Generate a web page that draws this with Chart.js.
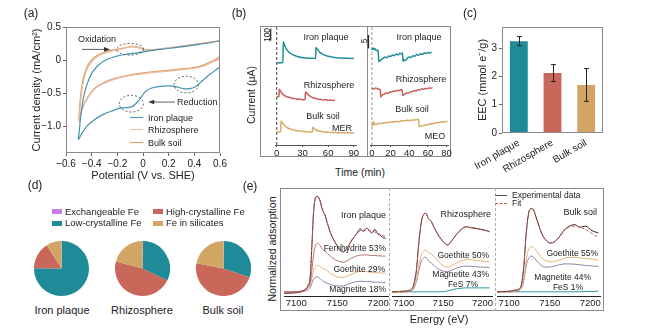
<!DOCTYPE html>
<html>
<head>
<meta charset="utf-8">
<script src="https://cdn.jsdelivr.net/npm/chart.js@4.4.1/dist/chart.umd.min.js"></script>
<style>
body { margin: 0; background: #fff; }
#fig { position: relative; width: 648px; height: 329px; overflow: hidden; font-family: Arial, "Liberation Sans", sans-serif; color: #222; }
#fig canvas { position: absolute; }
.t { position: absolute; white-space: nowrap; line-height: 1; }
.box { position: absolute; box-sizing: border-box; }
</style>
</head>
<body>
<div id="fig"></div>
<script>
// ---- (a) cyclic voltammetry: forward scan (up) and reverse scan (down)
const cvIronUpV = [-0.504, -0.496, -0.486, -0.465, -0.439, -0.400, -0.348, -0.283, -0.205, -0.127, -0.049, 0.029, 0.133, 0.263, 0.393, 0.523, 0.600];
const cvIronUpJ = [-1.20, -1.06, -0.86, -0.58, -0.38, -0.20, -0.076, 0.01, 0.061, 0.091, 0.111, 0.133, 0.162, 0.193, 0.226, 0.262, 0.293];
const cvIronDnV = [0.600, 0.548, 0.496, 0.444, 0.405, 0.366, 0.314, 0.263, 0.211, 0.133, 0.068, 0.023, -0.010, -0.044, -0.081, -0.127, -0.179, -0.231, -0.309, -0.387, -0.439, -0.478, -0.504];
const cvIronDnJ = [-0.10, -0.177, -0.253, -0.343, -0.404, -0.429, -0.429, -0.404, -0.389, -0.394, -0.419, -0.465, -0.545, -0.631, -0.697, -0.717, -0.722, -0.758, -0.818, -0.909, -1.0, -1.111, -1.20];
const cvRhizoUpV = [-0.499, -0.491, -0.481, -0.465, -0.439, -0.400, -0.348, -0.283, -0.205, -0.140, -0.088, -0.036, 0.016, 0.081, 0.185, 0.315, 0.445, 0.600];
const cvRhizoUpJ = [-0.93, -0.73, -0.53, -0.33, -0.15, -0.025, 0.061, 0.116, 0.152, 0.18, 0.20, 0.19, 0.155, 0.158, 0.182, 0.214, 0.248, 0.293];
const cvRhizoDnV = [0.600, 0.548, 0.470, 0.393, 0.263, 0.133, 0.003, -0.127, -0.231, -0.309, -0.374, -0.426, -0.465, -0.491, -0.499];
const cvRhizoDnJ = [0.025, -0.025, -0.091, -0.126, -0.152, -0.177, -0.202, -0.242, -0.293, -0.354, -0.429, -0.556, -0.697, -0.859, -0.93];
const cvBulkUpV = [-0.500, -0.493, -0.483, -0.467, -0.441, -0.402, -0.350, -0.285, -0.207, -0.140, -0.088, -0.036, 0.016, 0.081, 0.185, 0.315, 0.445, 0.600];
const cvBulkUpJ = [-0.90, -0.68, -0.48, -0.29, -0.12, 0.0, 0.08, 0.13, 0.162, 0.186, 0.207, 0.197, 0.158, 0.16, 0.183, 0.215, 0.249, 0.293];
const cvBulkDnV = [0.600, 0.548, 0.470, 0.393, 0.263, 0.133, 0.003, -0.127, -0.231, -0.309, -0.374, -0.426, -0.465, -0.490, -0.500];
const cvBulkDnJ = [0.05, -0.005, -0.075, -0.112, -0.14, -0.166, -0.192, -0.232, -0.283, -0.343, -0.418, -0.545, -0.69, -0.84, -0.90];
const cvXTicks = [-0.6, -0.4, -0.2, 0, 0.2, 0.4, 0.6];
const cvYTicks = [0.5, 0, -0.5, -1.0];
// dashed ellipses [V, mA, half width V, half height mA]
const cvPeaks = [[-0.10, 0.164, 0.104, 0.088], [-0.091, -0.656, 0.094, 0.126], [0.337, -0.368, 0.095, 0.126]];
// arrows [V0, J0, V1, J1]
const cvArrows = [[-0.475, 0.162, -0.257, 0.162], [0.249, -0.632, 0.041, -0.632]];

// ---- (b) chronoamperometry (offset traces)
const merIronT = [0, 3, 6, 7.2, 7.6, 9, 11, 13, 15, 18, 21, 25, 29, 34, 40, 45.3, 45.8, 47, 48.5, 50, 53, 56, 60, 64, 70, 76, 83, 90];
const merIronI = [697, 695, 699, 697, 875, 848, 818, 797, 782, 768, 758, 748, 742, 738, 735, 733, 826, 815, 800, 787, 773, 762, 752, 746, 740, 737, 735, 733];
const merRhizoT = [0, 1.5, 2.6, 3, 4, 5, 6, 8, 10, 12, 15, 18, 21, 24, 27, 30, 33, 33.6, 34.2, 35.5, 37, 39, 42, 45, 48, 51, 54, 57, 60, 63, 66, 68];
const merRhizoI = [405, 410, 408, 472, 462, 450, 438, 425, 416, 406, 404, 394, 395, 387, 390, 384, 386, 450, 447, 436, 424, 414, 400, 397, 388, 388, 382, 384, 379, 381, 377, 379];
const merBulkT = [0, 3, 4.6, 5, 6, 7.5, 9, 11, 13, 16, 19, 23, 28, 33, 38, 41.5, 42, 43, 44.5, 46, 48, 51, 55, 60, 66, 72, 78, 84, 90];
const merBulkI = [113, 112, 113, 203, 194, 180, 168, 155, 144, 135, 128, 122, 118, 114, 111, 110, 150, 143, 134, 127, 121, 116, 111, 108, 106, 104, 103, 103, 102];
const meoIronT = [0, 1, 2, 3, 4, 5, 6, 6.8, 7.3, 8, 9, 10, 12, 14, 16, 18, 20, 22, 24, 26, 28, 30, 32, 32.8, 33.4, 34, 36, 38, 40, 42, 44, 46, 48, 50, 52, 54, 56, 58, 60, 62, 64];
const meoIronI = [35.4, 36.2, 35.6, 36.0, 35.5, 35.2, 35.3, 35.0, 31.0, 31.6, 31.3, 31.9, 32.3, 32.8, 32.5, 33.2, 33.0, 33.6, 33.3, 33.9, 33.6, 34.2, 34.0, 34.3, 31.2, 31.8, 31.6, 32.4, 32.8, 32.6, 33.3, 33.1, 33.7, 33.5, 34.0, 33.8, 34.3, 34.1, 34.5, 34.3, 34.6];
const meoRhizoT = [0, 2, 4, 6, 8, 9, 9.5, 11, 13, 15, 17, 19, 21, 23, 25, 27, 29, 31.5, 32.3, 33, 35, 37, 39, 41, 43, 45, 47, 49, 51, 53, 55, 57, 59, 61, 63, 65];
const meoRhizoI = [21.2, 20.9, 21.3, 21.0, 20.8, 20.5, 17.9, 18.6, 18.9, 19.4, 19.2, 19.8, 19.7, 20.1, 20.0, 20.4, 20.3, 20.7, 20.4, 18.5, 18.9, 19.4, 19.3, 19.8, 19.9, 20.2, 20.1, 20.6, 20.5, 20.9, 20.8, 21.1, 21.0, 21.3, 21.2, 21.4];
const meoBulkT = [0, 1, 1.8, 3, 5, 8, 11, 14, 17, 20, 23, 26, 29, 32, 35, 38, 41, 44, 47, 50, 50.8, 52, 54, 57, 60, 63, 66, 69, 72, 75, 78, 81];
const meoBulkI = [6.9, 7.4, 8.8, 7.6, 7.8, 8.1, 8.0, 8.4, 8.3, 8.6, 8.5, 8.8, 8.7, 9.0, 9.0, 9.2, 9.1, 9.4, 9.3, 9.6, 6.8, 7.0, 7.2, 7.5, 7.6, 7.9, 8.0, 8.3, 8.4, 8.6, 8.7, 8.8];
const merTicks = [0, 30, 60, 90];
const meoTicks = [0, 20, 40, 60, 80];

// ---- (c) electron exchange capacity
const sites = ['Iron plaque', 'Rhizosphere', 'Bulk soil'];
const eecMean = [3.25, 2.12, 1.70];
const eecErr = [0.16, 0.30, 0.58];
const eecTicks = [0, 1, 2, 3];

// ---- (d) Fe fractions (%)
const feFractions = ['Exchangeable Fe', 'Low-crystalline Fe', 'High-crystalline Fe', 'Fe in silicates'];
const feIron = [0.3, 75, 16, 9];
const feRhizo = [0.3, 32, 47, 21];
const feBulk = [0.3, 30, 48, 22];

// ---- (e) Fe K-edge XANES (offset, normalized)
const eTicks = [7100, 7150, 7200];
const xIronE = [7085, 7100, 7110, 7114, 7117, 7119, 7121, 7124, 7126, 7129, 7132, 7135, 7138, 7142, 7148, 7154, 7158, 7162, 7168, 7174, 7178, 7182, 7186, 7189, 7192, 7196, 7199, 7202, 7205, 7209];
const xIronExp = [0.09, 0.11, 0.2, 0.33, 0.64, 1.64, 2.76, 3.31, 3.32, 3.18, 2.87, 2.7, 2.42, 2.09, 1.76, 1.51, 1.47, 1.59, 1.87, 2.09, 2.24, 2.15, 2.26, 2.2, 2.1, 2.22, 2.08, 2.04, 1.96, 1.92];
const xIronFit = [0.09, 0.11, 0.2, 0.33, 0.64, 1.64, 2.76, 3.3, 3.31, 3.17, 2.88, 2.7, 2.43, 2.1, 1.76, 1.52, 1.48, 1.6, 1.88, 2.08, 2.17, 2.2, 2.2, 2.18, 2.16, 2.13, 2.1, 2.06, 2.02, 1.98];
const xIronFerri = [0.14, 0.15, 0.2, 0.28, 0.45, 0.85, 1.35, 1.72, 1.76, 1.68, 1.55, 1.5, 1.42, 1.32, 1.2, 1.14, 1.13, 1.17, 1.27, 1.34, 1.36, 1.37, 1.37, 1.36, 1.35, 1.35, 1.34, 1.34, 1.33, 1.33];
const xIronGoeth = [0.13, 0.14, 0.18, 0.24, 0.38, 0.6, 0.85, 1.0, 1.03, 0.98, 0.92, 0.9, 0.84, 0.75, 0.66, 0.62, 0.62, 0.66, 0.74, 0.8, 0.82, 0.82, 0.81, 0.8, 0.79, 0.78, 0.78, 0.77, 0.77, 0.76];
const xIronMagn = [0.12, 0.13, 0.16, 0.2, 0.28, 0.42, 0.56, 0.63, 0.64, 0.58, 0.5, 0.46, 0.42, 0.38, 0.34, 0.33, 0.34, 0.38, 0.44, 0.48, 0.49, 0.49, 0.48, 0.48, 0.47, 0.46, 0.46, 0.46, 0.45, 0.45];
const xRhizoE = [7085, 7100, 7108, 7112, 7116, 7119, 7122, 7125, 7128, 7131, 7135, 7139, 7145, 7152, 7156, 7160, 7167, 7173, 7179, 7186, 7194, 7202, 7209];
const xRhizoExp = [0.14, 0.16, 0.2, 0.33, 0.87, 1.76, 2.42, 2.72, 2.76, 2.59, 2.48, 2.26, 1.98, 1.76, 1.7, 1.81, 2.06, 2.22, 2.31, 2.27, 2.24, 2.2, 2.14];
const xRhizoFit = [0.14, 0.16, 0.2, 0.33, 0.86, 1.75, 2.42, 2.71, 2.75, 2.6, 2.47, 2.26, 1.99, 1.76, 1.71, 1.82, 2.05, 2.22, 2.29, 2.29, 2.24, 2.19, 2.15];
const xRhizoGoeth = [0.13, 0.14, 0.17, 0.24, 0.55, 1.0, 1.35, 1.5, 1.53, 1.45, 1.4, 1.3, 1.12, 0.98, 0.96, 1.0, 1.1, 1.18, 1.22, 1.21, 1.18, 1.16, 1.14];
const xRhizoMagn = [0.13, 0.14, 0.16, 0.22, 0.48, 0.85, 1.15, 1.27, 1.29, 1.18, 1.1, 1.0, 0.88, 0.82, 0.81, 0.85, 0.93, 0.98, 1.0, 0.99, 0.97, 0.96, 0.95];
const xRhizoFeS = [0.14, 0.14, 0.14, 0.14, 0.14, 0.14, 0.14, 0.14, 0.14, 0.14, 0.14, 0.14, 0.14, 0.15, 0.17, 0.2, 0.24, 0.26, 0.27, 0.27, 0.27, 0.27, 0.27];
const xBulkE = [7083, 7100, 7108, 7114, 7118, 7121, 7124, 7127, 7130, 7133, 7137, 7141, 7145, 7151, 7156, 7162, 7168, 7175, 7181, 7187, 7194, 7202, 7210];
const xBulkExp = [0.14, 0.16, 0.2, 0.29, 0.98, 2.09, 2.76, 2.92, 2.87, 2.64, 2.31, 2.03, 1.87, 1.76, 1.81, 1.98, 2.2, 2.34, 2.38, 2.29, 2.33, 2.18, 2.1];
const xBulkFit = [0.14, 0.16, 0.2, 0.29, 0.97, 2.08, 2.75, 2.91, 2.87, 2.65, 2.32, 2.04, 1.88, 1.77, 1.81, 1.97, 2.18, 2.31, 2.33, 2.3, 2.22, 2.08, 1.95];
const xBulkGoeth = [0.13, 0.14, 0.17, 0.24, 0.6, 1.2, 1.55, 1.64, 1.62, 1.52, 1.38, 1.25, 1.18, 1.14, 1.15, 1.2, 1.26, 1.29, 1.29, 1.27, 1.25, 1.23, 1.2];
const xBulkMagn = [0.13, 0.14, 0.16, 0.22, 0.5, 1.0, 1.25, 1.33, 1.3, 1.2, 1.08, 0.99, 0.96, 0.97, 1.0, 1.04, 1.07, 1.07, 1.06, 1.04, 1.02, 1.0, 0.99];
const xBulkFeS = [0.14, 0.14, 0.14, 0.14, 0.14, 0.14, 0.14, 0.14, 0.14, 0.14, 0.14, 0.14, 0.14, 0.14, 0.14, 0.14, 0.14, 0.14, 0.14, 0.14, 0.15, 0.15, 0.16];

const cTeal = '#1f8a98', cRed = '#c8675a', cTan = '#d2a565';

Chart.defaults.font.family = 'Arial, "Liberation Sans", sans-serif';
Chart.defaults.font.size = 10;
Chart.defaults.color = '#222';
Chart.defaults.animation = false;
Chart.defaults.plugins.legend.display = false;
Chart.defaults.plugins.tooltip.enabled = false;
Chart.defaults.elements.point.radius = 0;

const fig = document.getElementById('fig');

function canvasAt(x, y, w, h) {
    const c = document.createElement('canvas');
    c.width = w; c.height = h;
    c.style.left = x + 'px'; c.style.top = y + 'px';
    c.style.width = w + 'px'; c.style.height = h + 'px';
    fig.appendChild(c);
    return c.getContext('2d');
}

function text(s, x, y, size, align, rot, extra) {
    const d = document.createElement('div');
    d.className = 't';
    d.innerHTML = s;
    d.style.left = x + 'px';
    d.style.top = y + 'px';
    d.style.fontSize = size + 'px';
    const tx = align === 'left' ? '0' : align === 'right' ? '-100%' : '-50%';
    d.style.transform = 'translate(' + tx + ',-50%)' + (rot ? ' rotate(' + rot + 'deg)' : '');
    if (extra) Object.assign(d.style, extra);
    fig.appendChild(d);
}

function box(x, y, w, h, css) {
    const d = document.createElement('div');
    d.className = 'box';
    d.style.left = x + 'px'; d.style.top = y + 'px';
    d.style.width = w + 'px'; d.style.height = h + 'px';
    Object.assign(d.style, css);
    fig.appendChild(d);
}

const pts = (xs, ys) => xs.map((x, i) => ({ x: x, y: ys[i] }));
const fixTicks = list => axis => { axis.ticks = list.map(v => ({ value: v })); };
const minus = v => (Math.abs(v) < 1e-9 ? '0' : (v < 0 ? '\u2212' : '') + Math.abs(v).toFixed(1));
const plain = v => String(v);

const frame = {
    id: 'frame',
    afterDraw(chart) {
        const a = chart.chartArea, ctx = chart.ctx;
        ctx.save();
        ctx.strokeStyle = '#8a8a8a';
        ctx.lineWidth = 1;
        ctx.strokeRect(Math.round(a.left) + 0.5, Math.round(a.top) + 0.5, Math.round(a.right - a.left) - 1, Math.round(a.bottom - a.top) - 1);
        ctx.restore();
    }
};

// ---------------- (a)
const cvNotes = {
    id: 'cvNotes',
    afterDatasetsDraw(chart) {
        const { ctx, scales: { x, y } } = chart;
        ctx.save();
        ctx.strokeStyle = '#333';
        ctx.lineWidth = 0.8;
        ctx.setLineDash([2, 2]);
        cvPeaks.forEach(p => {
            const cx = x.getPixelForValue(p[0]), cy = y.getPixelForValue(p[1]);
            ctx.beginPath();
            ctx.ellipse(cx, cy, Math.abs(x.getPixelForValue(p[0] + p[2]) - cx), Math.abs(y.getPixelForValue(p[1] + p[3]) - cy), 0, 0, Math.PI * 2);
            ctx.stroke();
        });
        ctx.setLineDash([]);
        ctx.fillStyle = '#333';
        cvArrows.forEach(p => {
            const x0 = x.getPixelForValue(p[0]), y0 = y.getPixelForValue(p[1]);
            const x1 = x.getPixelForValue(p[2]), y1 = y.getPixelForValue(p[3]);
            const a = Math.atan2(y1 - y0, x1 - x0), c = Math.cos(a), s = Math.sin(a);
            ctx.beginPath(); ctx.moveTo(x0, y0); ctx.lineTo(x1 - 4 * c, y1 - 4 * s); ctx.stroke();
            ctx.beginPath();
            ctx.moveTo(x1, y1);
            ctx.lineTo(x1 - 6 * c + 2.3 * s, y1 - 6 * s - 2.3 * c);
            ctx.lineTo(x1 - 6 * c - 2.3 * s, y1 - 6 * s + 2.3 * c);
            ctx.closePath(); ctx.fill();
        });
        ctx.restore();
    }
};

const cvLine = (xs, ys, color) => ({ data: pts(xs, ys), borderColor: color, borderWidth: 1.2, tension: 0.35 });
const cvIronC = '#4393ad', cvRhizoC = '#e9b9a6', cvBulkC = '#e39c5a';

new Chart(canvasAt(26, 19, 204, 168), {
    type: 'line',
    data: {
        datasets: [
            cvLine(cvIronUpV, cvIronUpJ, cvIronC),
            cvLine(cvIronDnV, cvIronDnJ, cvIronC),
            cvLine(cvRhizoUpV, cvRhizoUpJ, cvRhizoC),
            cvLine(cvRhizoDnV, cvRhizoDnJ, cvRhizoC),
            cvLine(cvBulkUpV, cvBulkUpJ, cvBulkC),
            cvLine(cvBulkDnV, cvBulkDnJ, cvBulkC)
        ]
    },
    options: {
        responsive: false,
        layout: { padding: { left: 0, right: 10, top: 8, bottom: 0 } },
        scales: {
            x: {
                type: 'linear', min: -0.6, max: 0.6,
                afterBuildTicks: fixTicks(cvXTicks),
                afterFit: s => { s.height = 34; },
                ticks: { callback: minus, padding: 2, maxRotation: 0, autoSkip: false, font: { size: 10 } },
                grid: { drawOnChartArea: false, tickLength: 3, color: '#666' },
                border: { display: false },
                title: { display: true, text: 'Potential (V vs. SHE)', font: { size: 11 } }
            },
            y: {
                min: -1.4, max: 0.5,
                afterBuildTicks: fixTicks(cvYTicks),
                afterFit: s => { s.width = 40; },
                ticks: { callback: minus, padding: 2, font: { size: 10 } },
                grid: { drawOnChartArea: false, tickLength: 3, color: '#666' },
                border: { display: false },
                title: { display: true, text: 'Current density (mA/cm\u00b2)', font: { size: 11 } }
            }
        }
    },
    plugins: [frame, cvNotes]
});

text('(a)', 31, 13, 12);
text('Oxidation', 78, 39, 9, 'left');
text('Reduction', 177, 102, 9, 'left');
[['Iron plaque', cvIronC, 118], ['Rhizosphere', cvRhizoC, 130], ['Bulk soil', cvBulkC, 143]].forEach(r => {
    box(130, r[2] - 0.6, 13, 0, { borderTop: '1.4px solid ' + r[1] });
    text(r[0], 148, r[2], 9, 'left');
});

// ---------------- (b)
box(260, 26, 191, 131, { border: '1px solid #8a8a8a' });
box(367, 26, 0, 131, { borderLeft: '1px solid #8a8a8a' });

const traceOpts = (xs, ys, color) => ({ data: pts(xs, ys), borderColor: color, borderWidth: 1.5, cubicInterpolationMode: 'monotone' });
const straight = (data, color, dash, width) => ({ data: data, borderColor: color, borderDash: dash, borderWidth: width, tension: 0, clip: false });
const bAxis = (min, max, ticks) => ({
    type: 'linear', min: min, max: max,
    afterBuildTicks: fixTicks(ticks),
    afterFit: s => { s.height = 11; },
    ticks: { callback: plain, padding: 1, maxRotation: 0, autoSkip: false, font: { size: 9.5 } },
    grid: { drawOnChartArea: false, tickLength: 2, color: '#555' },
    border: { color: '#555' }
});

new Chart(canvasAt(265, 20, 97, 136), {
    type: 'line',
    data: {
        datasets: [
            traceOpts(merIronT, merIronI, '#1f8f98'),
            traceOpts(merRhizoT, merRhizoI, '#c85d5a'),
            traceOpts(merBulkT, merBulkI, '#d7ab63'),
            straight([{ x: 0, y: 0 }, { x: 0, y: 1000 }], '#444', [3, 2], 1),
            straight([{ x: -7, y: 885 }, { x: -7, y: 985 }], '#222', [], 1.2)
        ]
    },
    options: {
        responsive: false,
        layout: { padding: { left: 10, right: 6, top: 7, bottom: 0 } },
        scales: { x: bAxis(-2, 92.5, merTicks), y: { display: false, min: 0, max: 1000 } }
    }
});

new Chart(canvasAt(365, 20, 88, 136), {
    type: 'line',
    data: {
        datasets: [
            traceOpts(meoIronT, meoIronI, '#1f8f98'),
            traceOpts(meoRhizoT, meoRhizoI, '#c85d5a'),
            traceOpts(meoBulkT, meoBulkI, '#d7ab63'),
            straight([{ x: 0, y: 0 }, { x: 0, y: 44 }], '#999', [3, 2], 1),
            straight([{ x: -3.7, y: 36 }, { x: -3.7, y: 41 }], '#222', [], 1.4)
        ]
    },
    options: {
        responsive: false,
        layout: { padding: { left: 5, right: 4, top: 7, bottom: 0 } },
        scales: { x: bAxis(-2, 82.3, meoTicks), y: { display: false, min: 0, max: 44 } }
    }
});

text('(b)', 239, 13, 12);
text('Current (\u03bcA)', 251, 95, 10.5, 'center', -90);
text('Time (min)', 360, 172, 10.5);
text('100', 266.5, 35, 8.5, 'center', -90);
text('5', 364, 41, 8.5, 'center', -90);
text('Iron plaque', 326, 37, 9);
text('Rhizosphere', 329, 85, 9);
text('Bulk soil', 323, 116, 9);
text('MER', 342, 128, 9);
text('Iron plaque', 419, 37, 9);
text('Rhizosphere', 421, 79, 9);
text('Bulk soil', 412, 109, 9);
text('MEO', 435, 136, 9);

// ---------------- (c)
const errorBars = {
    id: 'errorBars',
    afterDatasetsDraw(chart) {
        const ctx = chart.ctx, y = chart.scales.y;
        ctx.save();
        ctx.strokeStyle = '#222';
        ctx.lineWidth = 1;
        chart.getDatasetMeta(0).data.forEach((bar, i) => {
            const hi = y.getPixelForValue(eecMean[i] + eecErr[i]);
            const lo = y.getPixelForValue(eecMean[i] - eecErr[i]);
            const x = Math.round(bar.x) + 0.5;
            ctx.beginPath();
            ctx.moveTo(x, hi); ctx.lineTo(x, lo);
            ctx.moveTo(x - 2.5, hi); ctx.lineTo(x + 2.5, hi);
            ctx.moveTo(x - 2.5, lo); ctx.lineTo(x + 2.5, lo);
            ctx.stroke();
        });
        ctx.restore();
    }
};

new Chart(canvasAt(462, 19, 149, 164), {
    type: 'bar',
    data: {
        labels: sites,
        datasets: [{ data: eecMean, backgroundColor: [cTeal, cRed, cTan], categoryPercentage: 1, barPercentage: 0.53 }]
    },
    options: {
        responsive: false,
        layout: { padding: { left: 10, right: 8, top: 8, bottom: 0 } },
        scales: {
            x: {
                afterFit: s => { s.height = 50; },
                ticks: { minRotation: 30, maxRotation: 30, padding: 4, font: { size: 10 } },
                grid: { display: false, drawTicks: false },
                border: { display: false }
            },
            y: {
                min: 0, max: 3.75,
                afterBuildTicks: fixTicks(eecTicks),
                afterFit: s => { s.width = 30; },
                ticks: { padding: 2, font: { size: 10 } },
                grid: { drawOnChartArea: false, tickLength: 3, color: '#666' },
                border: { display: false },
                title: { display: true, text: 'EEC (mmol e\u207b/g)', font: { size: 11 } }
            }
        }
    },
    plugins: [frame, errorBars]
});
text('(c)', 470, 13, 12);

// ---------------- (d)
const pieColors = ['#c67ee6', cTeal, cRed, cTan];
[[feIron, 34, 'Iron plaque', 62], [feRhizo, 115, 'Rhizosphere', 142], [feBulk, 196, 'Bulk soil', 223]].forEach(p => {
    new Chart(canvasAt(p[1], 241, 55, 55), {
        type: 'pie',
        data: { labels: feFractions, datasets: [{ data: p[0], backgroundColor: pieColors, borderWidth: 0 }] },
        options: { responsive: false, layout: { padding: 0 } }
    });
    text(p[2], p[3], 310, 11);
});
text('(d)', 35, 185, 12);
[[0, 52, 211.5], [1, 52, 223], [2, 153, 211.5], [3, 153, 223]].forEach(l => {
    box(l[1], l[2] - 2.5, 10, 5, { background: pieColors[l[0]] });
    text(feFractions[l[0]], l[1] + 13, l[2], 9.5, 'left');
});

// ---------------- (e)
box(280, 188, 324, 123, { border: '1px solid #8a8a8a' });
box(389, 188, 0, 123, { borderLeft: '1px dashed #b0b0b0' });
box(495, 188, 0, 123, { borderLeft: '1px dashed #b0b0b0' });

const xLine = (E, ys, color, dash) => ({ data: pts(E, ys), borderColor: color, borderWidth: 1, borderDash: dash || [], cubicInterpolationMode: 'monotone' });
const cExp = '#3a2d2d', cFit = '#d1524c', cFerri = '#b5746c', cGoeth = '#e4b07c', cMagn = '#8c84a8', cFeS = '#2a98a4';

function xanes(left, width, E, exp, fit, comps) {
    new Chart(canvasAt(left, 183, width, 127), {
        type: 'line',
        data: { datasets: [xLine(E, fit, cFit, [3, 2]), xLine(E, exp, cExp)].concat(comps.map(c => xLine(E, c[0], c[1]))) },
        options: {
            responsive: false,
            layout: { padding: { left: 6, right: 6, top: 5, bottom: 0 } },
            scales: {
                x: {
                    type: 'linear', min: 7085, max: 7212,
                    afterBuildTicks: fixTicks(eTicks),
                    afterFit: s => { s.height = 14; },
                    ticks: { callback: plain, padding: 2, maxRotation: 0, autoSkip: false, font: { size: 9.5 } },
                    grid: { display: false, drawTicks: false },
                    border: { color: '#222', width: 1 }
                },
                y: { display: false, min: 0, max: 3.6 }
            }
        }
    });
}
xanes(278, 116, xIronE, xIronExp, xIronFit, [[xIronFerri, cFerri], [xIronGoeth, cGoeth], [xIronMagn, cMagn]]);
xanes(386, 112, xRhizoE, xRhizoExp, xRhizoFit, [[xRhizoGoeth, cGoeth], [xRhizoMagn, cMagn], [xRhizoFeS, cFeS]]);
xanes(491, 115, xBulkE, xBulkExp, xBulkFit, [[xBulkGoeth, cGoeth], [xBulkMagn, cMagn], [xBulkFeS, cFeS]]);

text('(e)', 250, 186, 12);
text('Normalized adsorption', 272, 249, 10.5, 'center', -90);
text('Energy (eV)', 439, 319, 11);
box(495, 194.5, 12, 0, { borderTop: '1.2px solid #555' });
text('Experimental data', 512, 195, 8.5, 'left');
box(495, 202.5, 12, 0, { borderTop: '1.2px dashed ' + cFit });
text('Fit', 512, 203, 8.5, 'left');
text('Iron plaque', 386, 215, 9, 'right');
text('Ferrihydrite 53%', 386, 248, 8.5, 'right');
text('Goethite 29%', 385, 269, 8.5, 'right');
text('Magnetite 18%', 386, 289, 8.5, 'right');
text('Rhizosphere', 491, 214, 9, 'right');
text('Goethite 50%', 489, 255, 8.5, 'right');
text('Magnetite 43%', 489, 274, 8.5, 'right');
text('FeS 7%', 463, 284, 8.5);
text('Bulk soil', 597, 212, 9, 'right');
text('Goethite 55%', 598, 253, 8.5, 'right');
text('Magnetite 44%', 591, 277, 8.5, 'right');
text('FeS 1%', 568, 287, 8.5);
</script>
</body>
</html>
